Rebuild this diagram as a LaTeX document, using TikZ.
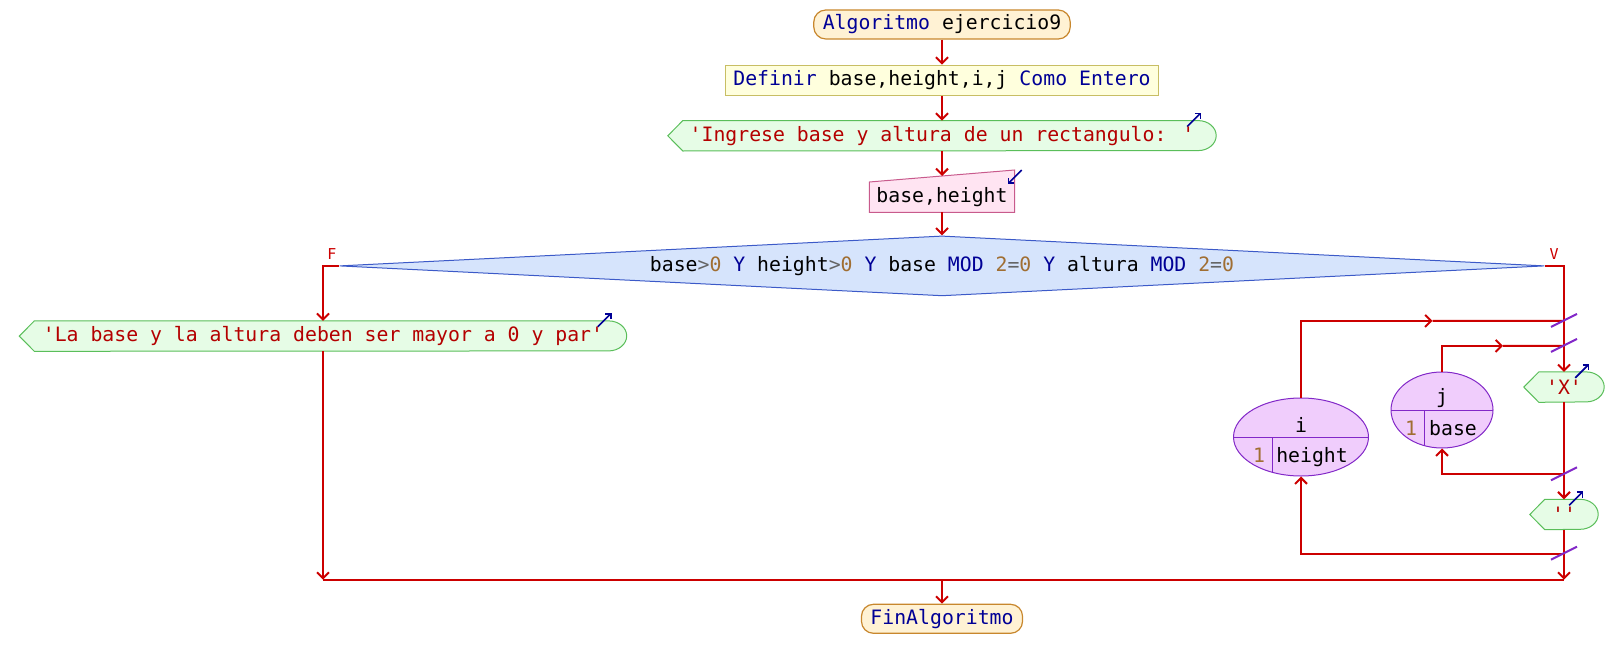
\documentclass[tikz,border=0pt]{standalone}
\usepackage{fontspec}
\usepackage{xcolor}
\usepackage{tikz}
\usetikzlibrary{arrows.meta,positioning,shapes.geometric,backgrounds,calc}
\newfontfamily\codefont{DejaVu Sans Mono}
\newcommand{\flowfont}{\codefont\fontsize{19.8pt}{24pt}\selectfont}
\newcommand{\labelfont}{\codefont\fontsize{15pt}{18pt}\selectfont}
\definecolor{flowred}{RGB}{204,0,0}
\definecolor{kwblue}{RGB}{0,0,150}
\definecolor{strred}{RGB}{180,0,0}
\definecolor{numbrown}{RGB}{160,110,50}
\definecolor{opgray}{RGB}{100,100,100}
\definecolor{termfill}{RGB}{255,242,212}
\definecolor{termdraw}{RGB}{200,135,45}
\definecolor{procfill}{RGB}{255,255,221}
\definecolor{procdraw}{RGB}{200,190,100}
\definecolor{outfill}{RGB}{230,252,230}
\definecolor{outdraw}{RGB}{90,190,90}
\definecolor{infill}{RGB}{255,228,242}
\definecolor{indraw}{RGB}{200,90,140}
\definecolor{condfill}{RGB}{214,228,252}
\definecolor{conddraw}{RGB}{60,90,200}
\definecolor{loopfill}{RGB}{240,205,252}
\definecolor{loopdraw}{RGB}{130,40,200}
\definecolor{iconblue}{RGB}{0,0,150}
\newcommand{\kw}[1]{\textcolor{kwblue}{#1}}
\newcommand{\numc}[1]{\textcolor{numbrown}{#1}}
\newcommand{\opc}[1]{\textcolor{opgray}{#1}}
\tikzset{
  termbox/.style={
    rectangle,
    rounded corners=12pt,
    draw=termdraw,
    fill=termfill,
    line width=1.2pt,
    minimum height=29pt,
    inner xsep=9pt,
    inner ysep=0pt,
    font=\flowfont
  },
  procbox/.style={
    rectangle,
    draw=procdraw,
    fill=procfill,
    line width=1pt,
    minimum height=30pt,
    inner xsep=7.5pt,
    inner ysep=0pt,
    font=\flowfont
  },
  outbox/.style={
    rectangle,
    minimum height=30pt,
    inner sep=0pt,
    text=strred,
    font=\flowfont
  },
  inbox/.style={
    rectangle,
    minimum height=30pt,
    minimum width=145pt,
    inner sep=0pt,
    font=\flowfont
  },
  decisionbox/.style={
    diamond,
    aspect=20,
    draw=conddraw,
    fill=condfill,
    line width=1pt,
    minimum width=1205pt,
    minimum height=60pt,
    inner sep=0pt,
    font=\flowfont
  },
  loopvar/.style={
    ellipse,
    draw=loopdraw,
    fill=loopfill,
    line width=1pt,
    inner sep=0pt,
    path picture={
      \draw[loopdraw, line width=1pt]
        (path picture bounding box.west) -- (path picture bounding box.east)
        ([xshift=#1]path picture bounding box.center) -- ([xshift=#1]path picture bounding box.south);
    }
  },
  vartext/.style={anchor=base, inner sep=0pt, font=\flowfont},
  branchlabel/.style={text=flowred, inner sep=0pt, font=\labelfont},
  flowline/.style={draw=flowred, line width=2pt},
  flowarrow/.style={flowline, -{Straight Barb[length=6pt,width=12pt]}},
  iconarrow/.style={draw=iconblue, line width=1.6pt, -{Straight Barb[length=4pt,width=8pt]}},
  loopmark/.style={draw=loopdraw, line width=2pt},
  outframe/.style={draw=outdraw, fill=outfill, line width=1pt},
  inframe/.style={draw=indraw, fill=infill, line width=1pt}
}
\newcommand{\outshape}[1]{%
  \draw[outframe] (#1.west) -- ([xshift=15pt]#1.north west) -- ([xshift=-18pt]#1.north east)
    arc[start angle=90, end angle=-90, x radius=18pt, y radius=15pt]
    -- ([xshift=15pt]#1.south west) -- cycle;
  \draw[iconarrow] ([xshift=-29pt,yshift=-6pt]#1.north east) -- ++(14pt,14pt);}
\newcommand{\inshape}[1]{%
  \draw[inframe] (#1.south west) -- (#1.north west) -- ([yshift=12pt]#1.north east) -- (#1.south east) -- cycle;
  \draw[iconarrow] ([xshift=7pt,yshift=12pt]#1.north east) -- ++(-14pt,-14pt);}
\newcommand{\loopmark}[1]{%
  \draw[loopmark] ([xshift=-13pt,yshift=-6pt]#1) -- ([xshift=13pt,yshift=7pt]#1);}

\begin{document}
\begin{tikzpicture}[x=1pt, y=-1pt]
\useasboundingbox (0,0) rectangle (1620,669);
\node[termbox] (start) at (942,24.5) {\kw{Algoritmo} ejercicio9};
\node[procbox, below=25pt of start] (defn) {\kw{Definir} base,height,i,j \kw{Como Entero}};
\node[outbox, minimum width=548pt, below=25pt of defn] (out1) {'Ingrese base y altura de un rectangulo: '};
\node[inbox, below=31pt of out1] (inp) {base,height};
\node[decisionbox, below=23pt of inp] (cond) {base\opc{>}\numc{0} \kw{Y} height\opc{>}\numc{0} \kw{Y} base \kw{MOD} \numc{2}\opc{=}\numc{0} \kw{Y} altura \kw{MOD} \numc{2}\opc{=}\numc{0}};
\coordinate (fpt) at ([xshift=-16pt]cond.west);
\coordinate (vpt) at ([xshift=19pt]cond.east);
\node[branchlabel] at ([xshift=9pt,yshift=12pt]fpt) {F};
\node[branchlabel] at ([xshift=-10pt,yshift=12pt]vpt) {V};
\node[outbox, minimum width=607pt, below=55pt of fpt] (out2) {'La base y la altura deben ser mayor a 0 y par'};
\node[outbox, minimum width=80pt, below=106pt of vpt] (outx) {'X'};
\node[outbox, minimum width=68pt, below=97pt of outx] (outsp) {''};
\node[loopvar=-29pt, minimum width=135pt, minimum height=78pt] (li) at (1301,437) {};
\node[loopvar=-18pt, minimum width=102pt, minimum height=76pt] (lj) at (1442,410) {};
\node[vartext] at ([yshift=5pt]li.center) {i};
\node[vartext, text=numbrown] at ([xshift=-42pt,yshift=-25pt]li.center) {1};
\node[vartext] at ([xshift=11pt,yshift=-25pt]li.center) {height};
\node[vartext] at ([yshift=7pt]lj.center) {j};
\node[vartext, text=numbrown] at ([xshift=-31pt,yshift=-25pt]lj.center) {1};
\node[vartext] at ([xshift=11pt,yshift=-25pt]lj.center) {base};

\coordinate (iloop) at ([yshift=-55pt]vpt);
\coordinate (jloop) at ([yshift=-80pt]vpt);
\coordinate (jback) at ([yshift=-72pt]outx.south);
\coordinate (iback) at ([yshift=-24pt]outsp.south);
\coordinate (vend) at ([yshift=-50pt]outsp.south);
\coordinate (fend) at (fpt |- vend);
\coordinate (mid) at (start |- vend);
\coordinate (imid) at ($(li.north |- iloop)!0.5!(iloop)$);
\coordinate (jmid) at ($(lj.north |- jloop)!0.5!(jloop)$);
\node[termbox, below=24pt of mid] (fin) {\kw{FinAlgoritmo}};

\begin{scope}[on background layer]
\outshape{out1}
\outshape{out2}
\outshape{outx}
\outshape{outsp}
\inshape{inp}
\end{scope}

\draw[flowarrow] (start) -- (defn);
\draw[flowarrow] (defn) -- (out1);
\draw[flowarrow] (out1) -- ([yshift=6pt]inp.north);
\draw[flowarrow] (inp) -- (cond);
\draw[flowarrow] (cond.west) -| (out2.north);
\draw[flowarrow] (out2) -- (fend);
\draw[flowarrow] (cond.east) -| (outx.north);
\draw[flowarrow] (li.north) |- (imid);
\draw[flowline] (imid) -- (iloop);
\draw[flowarrow] (lj.north) |- (jmid);
\draw[flowline] (jmid) -- (jloop);
\draw[flowarrow] (outx) -- (outsp);
\draw[flowarrow] (jback) -| (lj.south);
\draw[flowarrow] (iback) -| (li.south);
\draw[flowarrow] (outsp) -- (vend);
\draw[flowline] (fend) -- (vend);
\draw[flowarrow] (mid) -- (fin);
\loopmark{iloop}
\loopmark{jloop}
\loopmark{jback}
\loopmark{iback}
\end{tikzpicture}
\end{document}
